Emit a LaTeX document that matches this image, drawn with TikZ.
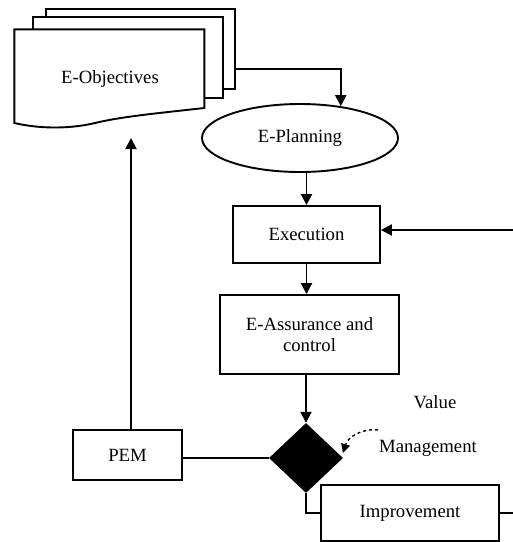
\documentclass[tikz,border=0pt]{standalone}
\usepackage{fontspec}
\setmainfont{Liberation Serif}
\usetikzlibrary{shapes.geometric,arrows.meta}
\begin{document}
\begin{tikzpicture}[x=1pt,y=-1pt,
  every node/.style={font=\fontsize{18.7pt}{21pt}\selectfont},
  line/.style={line width=1.9pt},
  arr/.style={line, -{Triangle[length=11pt,width=11pt]}},
  boxnode/.style={draw, line width=1.9pt, fill=white, inner sep=0pt},
  page/.style={draw, line width=1.9pt, fill=white, inner sep=0pt}]
\useasboundingbox (0,0) rectangle (513,542);

% stacked document pages
\node[page, minimum width=189.3pt, minimum height=79.7pt] (page3) at (140.35,49.15) {};
\node[page, minimum width=190pt, minimum height=81.3pt] (page2) at (127.7,57.35) {};
\draw[line, fill=white] (14.3,29.3) -- (204.3,29.3) -- (204.3,108)
  .. controls (150,114) and (120,117) .. (95,123)
  .. controls (70,129) and (40,129) .. (14.3,123) -- cycle;
\node (obj) at (110,79) {E-Objectives};
\coordinate (objin) at (131,138);

% process chain
\node[boxnode, ellipse, minimum width=196pt, minimum height=68pt] (plan) at (300,138) {E-Planning};
\node[boxnode, minimum width=147pt, minimum height=57pt] (exec) at (306.5,234.5) {Execution};
\node[boxnode, minimum width=179pt, minimum height=79pt, align=center] (assure) at (309.5,334.5) {E-Assurance and\\control};
\node[diamond, fill=black, inner sep=0pt, minimum width=74pt, minimum height=70pt] (dia) at (306,458) {};
\node[boxnode, minimum width=109pt, minimum height=50pt] (pem) at (127.5,455) {PEM};
\node[boxnode, minimum width=178pt, minimum height=56pt] (imp) at (410,513) {Improvement};

\node (value) at (435,402) {Value};
\node (mgmt) at (428,448) {Management};
\coordinate (extin) at (513,230);
\coordinate (extout) at (513,513);
\coordinate (mstart) at (378,430);
\coordinate (mend) at (343,453);

% connectors
\draw[arr] ([yshift=-20pt]page3.east) -| (plan.38);
\draw[arr] (exec.north |- plan.south) -- (exec.north);
\draw[arr] (exec.south) -- (exec.south |- assure.north);
\draw[arr] (assure.south -| dia.north) -- (dia.north);
\draw[arr] (extin) -- (extin -| exec.east);
\draw[line] (dia.west) -- (dia.west -| pem.east);
\draw[arr] (pem.north -| objin) -- (objin);
\draw[line] (dia.south) |- (imp.west);
\draw[line] (imp.east) -- (extout);
\draw[line width=1.4pt, dashed, -{Triangle[length=9pt,width=9pt]}] (mstart) to[bend right=40] (mend);
\end{tikzpicture}
\end{document}
